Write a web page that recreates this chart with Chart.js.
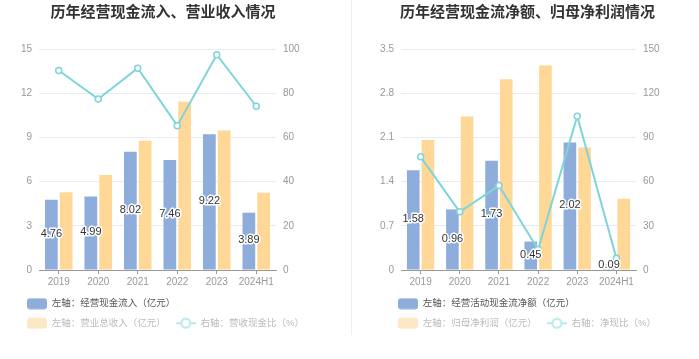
<!DOCTYPE html>
<html>
<head>
<meta charset="utf-8">
<script src="https://cdn.jsdelivr.net/npm/chart.js@4"></script>
<style>
  html, body { margin: 0; padding: 0; background: #fff; }
  body { width: 699px; height: 359px; position: relative; overflow: hidden; }
  .box { position: absolute; top: 0; height: 359px; }
  #b1 { left: 0; width: 351px; }
  #b2 { left: 352px; width: 347px; }
  #sep { position: absolute; left: 351px; top: 0; width: 1px; height: 335px; background: #eeeeee; }
</style>
</head>
<body>
<div class="box" id="b1"><canvas id="c1" width="351" height="359"></canvas></div>
<div id="sep"></div>
<div class="box" id="b2"><canvas id="c2" width="347" height="359"></canvas></div>
<script>
const years = ['2019', '2020', '2021', '2022', '2023', '2024H1']

// 左图
const cashIn = [4.76, 4.99, 8.02, 7.46, 9.22, 3.89]
const revenue = [5.27, 6.45, 8.78, 11.42, 9.46, 5.25]
const cashRatio = [90.3, 77.4, 91.3, 65.3, 97.4, 74.1]
const leftTicks1 = ['0', '3', '6', '9', '12', '15']
const rightTicks1 = ['0', '20', '40', '60', '80', '100']

// 右图
const netCash = [1.58, 0.96, 1.73, 0.45, 2.02, 0.09]
const netProfit = [2.06, 2.43, 3.02, 3.24, 1.94, 1.13]
const netRatio = [76.8, 39.5, 57.3, 13.9, 104.4, 8.0]
const leftTicks2 = ['0', '0.7', '1.4', '2.1', '2.8', '3.5']
const rightTicks2 = ['0', '30', '60', '90', '120', '150']

const BLUE = '#8eaddb'
const ORANGE = '#ffd898'
const CYAN = '#7fd4d9'
const FONT = "'Liberation Sans', 'Noto Sans CJK SC', sans-serif"

function swatch(kind) {
  const c = document.createElement('canvas')
  c.width = 20; c.height = 12
  const ctx = c.getContext('2d')
  if (kind === 'line') {
    ctx.strokeStyle = '#b8e9ec'
    ctx.lineWidth = 2
    ctx.beginPath(); ctx.moveTo(0, 6); ctx.lineTo(20, 6); ctx.stroke()
    ctx.fillStyle = '#fff'
    ctx.beginPath(); ctx.arc(10, 6, 4.5, 0, Math.PI * 2); ctx.fill(); ctx.stroke()
  } else {
    ctx.fillStyle = kind
    ctx.beginPath(); ctx.roundRect(0, 0.5, 20, 11, 3); ctx.fill()
  }
  return c
}

const barLabels = {
  id: 'barLabels',
  afterLayout(chart) {
    // nudge legend a bit
    const s = chart.options.legendShift || 0
    chart.legend.left += s
    chart.legend.right += s
    chart.legend.top -= 1
    chart.legend.bottom -= 1
  },
  afterDatasetsDraw(chart) {
    const ctx = chart.ctx
    const meta = chart.getDatasetMeta(0)
    const vals = chart.data.datasets[0].data
    const base = chart.scales.y.getPixelForValue(0)
    ctx.save()
    ctx.font = '11px ' + FONT
    ctx.textAlign = 'center'
    ctx.textBaseline = 'middle'
    ctx.lineJoin = 'round'
    meta.data.forEach((bar, i) => {
      const y = Math.min((bar.y + base) / 2 - 1, base - 5)
      const t = vals[i].toFixed(2)
      ctx.strokeStyle = '#fff'
      ctx.lineWidth = 3
      ctx.strokeText(t, bar.x, y)
      ctx.fillStyle = '#333'
      ctx.fillText(t, bar.x, y)
    })
    ctx.restore()
  }
}

function makeChart(id, cfg) {
  const fixW = w => scale => { scale.width = w }
  return new Chart(document.getElementById(id), {
    type: 'bar',
    data: {
      labels: years,
      datasets: [
        { label: cfg.names[0], data: cfg.bars1, backgroundColor: BLUE, yAxisID: 'y', order: 1,
          categoryPercentage: 0.75, barPercentage: 0.86 },
        { label: cfg.names[1], data: cfg.bars2, backgroundColor: ORANGE, yAxisID: 'y', order: 1,
          categoryPercentage: 0.75, barPercentage: 0.86 },
        { type: 'line', label: cfg.names[2], data: cfg.line, yAxisID: 'y1', order: -1,
          borderColor: CYAN, borderWidth: 2, backgroundColor: '#fff',
          pointRadius: 3, pointBorderWidth: 1.5, pointBackgroundColor: '#fff', pointBorderColor: CYAN,
          tension: 0 }
      ]
    },
    options: {
      responsive: false,
      animation: false,
      legendShift: cfg.shift,
      layout: { padding: { left: cfg.padL, right: cfg.padR, top: 0, bottom: 20 } },
      plugins: {
        tooltip: { enabled: false },
        title: {
          display: true, text: cfg.title, color: '#333',
          font: { size: 15, weight: 'bold', family: "'Noto Sans CJK SC', sans-serif" },
          padding: { top: 2, bottom: 29 }
        },
        legend: {
          position: 'bottom', align: 'start',
          labels: {
            font: { size: 9.5, family: FONT },
            usePointStyle: true, pointStyleWidth: 20, padding: 10,
            generateLabels: () => [
              { text: cfg.names[0], pointStyle: swatch(BLUE), fontColor: '#555', datasetIndex: 0 },
              { text: cfg.names[1], pointStyle: swatch('#fde8c6'), fontColor: '#bbb', datasetIndex: 1 },
              { text: cfg.names[2], pointStyle: swatch('line'), fontColor: '#bbb', datasetIndex: 2 }
            ]
          }
        }
      },
      scales: {
        x: {
          grid: { offset: false, drawOnChartArea: false, drawTicks: true, tickLength: 4, color: '#999' },
          border: { color: '#999' },
          ticks: { color: '#999', font: { size: 10, family: FONT }, padding: 2, maxRotation: 0, autoSkip: false }
        },
        y: {
          position: 'left', min: 0, max: cfg.lmax, afterFit: fixW(cfg.lw),
          ticks: { stepSize: cfg.lstep, color: '#999', font: { size: 10, family: FONT }, padding: 7,
            callback: (v, i) => cfg.lticks[i] },
          grid: { color: '#e8ebf4', drawTicks: false },
          border: { display: false }
        },
        y1: {
          position: 'right', min: 0, max: cfg.rmax, afterFit: fixW(cfg.rw),
          ticks: { stepSize: cfg.rstep, color: '#999', font: { size: 10, family: FONT }, padding: 7,
            callback: (v, i) => cfg.rticks[i] },
          grid: { drawOnChartArea: false, drawTicks: false },
          border: { display: false }
        }
      }
    },
    plugins: [barLabels]
  })
}

makeChart('c1', {
  title: '历年经营现金流入、营业收入情况',
  names: ['左轴：经营现金流入（亿元）', '左轴：营业总收入（亿元）', '右轴：营收现金比（%）'],
  bars1: cashIn, bars2: revenue, line: cashRatio,
  lmax: 15, lstep: 3, rmax: 100, rstep: 20, lticks: leftTicks1, rticks: rightTicks1,
  padL: 10, padR: 35, lw: 29, rw: 40, shift: 7
})

makeChart('c2', {
  title: '历年经营现金流净额、归母净利润情况',
  names: ['左轴：经营活动现金流净额（亿元）', '左轴：归母净利润（亿元）', '右轴：净现比（%）'],
  bars1: netCash, bars2: netProfit, line: netRatio,
  lmax: 3.5, lstep: 0.7, rmax: 150, rstep: 30, lticks: leftTicks2, rticks: rightTicks2,
  padL: 24, padR: 20, lw: 25, rw: 43, shift: 12
})
</script>
</body>
</html>
